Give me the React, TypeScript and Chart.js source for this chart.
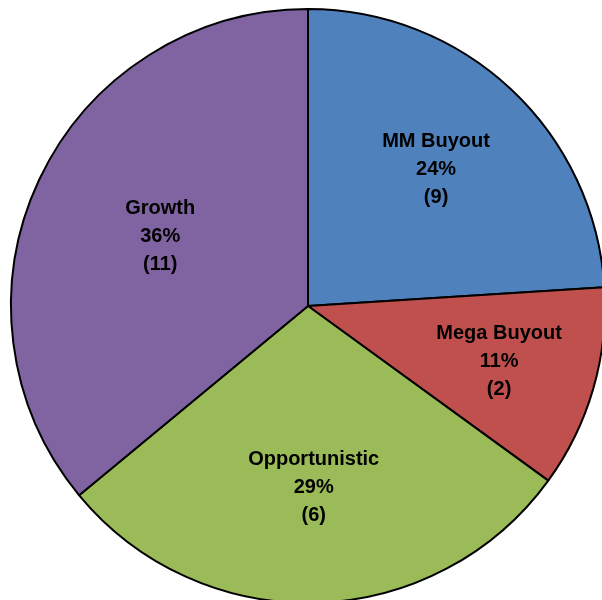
import React, { useEffect, useRef } from "react";
import { Chart, registerables } from "chart.js";

Chart.register(...registerables);

const categories = ["MM Buyout", "Mega Buyout", "Opportunistic", "Growth"];
const percentages = [24, 11, 29, 36];
const counts = [9, 2, 6, 11];
const colors = ["#4F81BD", "#C0504D", "#9BBB59", "#8064A2"];

const labelPlugin = {
  id: "sliceLabels",
  afterDatasetsDraw(chart: any) {
    const ctx = chart.ctx;
    const meta = chart.getDatasetMeta(0);
    const factors = [0.63, 0.67, 0.61, 0.55];
    ctx.save();
    ctx.font = "bold 20px 'Liberation Sans', Arial, sans-serif";
    ctx.fillStyle = "#000";
    ctx.textAlign = "center";
    ctx.textBaseline = "middle";
    meta.data.forEach((arc: any, i: number) => {
      const p = arc.getProps(["x", "y", "startAngle", "endAngle", "outerRadius"], true);
      const mid = (p.startAngle + p.endAngle) / 2;
      const r = p.outerRadius * factors[i];
      const cx = p.x + Math.cos(mid) * r;
      const cy = p.y + Math.sin(mid) * r;
      const lines = [categories[i], percentages[i] + "%", "(" + counts[i] + ")"];
      lines.forEach((t, k) => {
        ctx.fillText(t, cx, cy + (k - 1) * 28);
      });
    });
    ctx.restore();
  },
};

export default function App() {
  const ref = useRef<HTMLCanvasElement>(null);
  useEffect(() => {
    if (!ref.current) return;
    const chart = new Chart(ref.current, {
      type: "pie",
      data: {
        labels: categories,
        datasets: [
          {
            data: percentages,
            backgroundColor: colors,
            borderColor: "#000",
            borderWidth: 2,
          },
        ],
      },
      options: {
        responsive: false,
        animation: false,
        layout: { padding: { left: 10, top: 8, right: 14, bottom: 16 } },
        plugins: {
          legend: { display: false },
          tooltip: { enabled: false },
        },
      },
      plugins: [labelPlugin],
    });
    return () => chart.destroy();
  }, []);
  return (
    <div style={{ position: "fixed", left: 0, top: 0, width: 602, height: 600, overflow: "hidden", background: "#fff" }}>
      <canvas ref={ref} width={620} height={620} style={{ display: "block", width: 620, height: 620 }} />
    </div>
  );
}
